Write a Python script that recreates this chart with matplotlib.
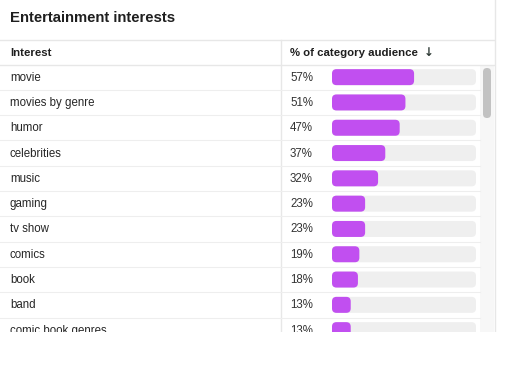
import matplotlib

matplotlib.use("Agg")
import matplotlib.pyplot as plt
from matplotlib.patches import FancyBboxPatch, Rectangle

title = "Entertainment interests"
col_headers = ["Interest", "% of category audience"]
interests = ["movie", "movies by genre", "humor", "celebrities", "music", "gaming",
             "tv show", "comics", "book", "band", "comic book genres"]
shares = [57, 51, 47, 37, 32, 23, 23, 19, 18, 13, 13]

W, H = 512, 367
row_top = 64.5
row_h = 25.3
bar_x0, bar_w, bar_h = 332, 144, 16
clip_y = 332
line_col = "#e7e7e7"
bar_col = "#c14ff0"
track_col = "#efefef"
text_col = "#1f1f1f"
font = ["Liberation Sans", "DejaVu Sans"]

fig = plt.figure(figsize=(W / 100, H / 100), dpi=100)
ax = fig.add_axes([0, 0, 1, 1])
ax.set_xlim(0, W)
ax.set_ylim(H, 0)
ax.axis("off")

ax.text(10, 17.5, title, fontsize=10.7, fontweight="bold", color=text_col,
        va="center", ha="left", family=font)

# header row
ax.axhline(39.5, xmin=0, xmax=494 / W, color=line_col, lw=1)
ax.axhline(row_top, xmin=0, xmax=494 / W, color=line_col, lw=1)
ax.text(10, 52.5, col_headers[0], fontsize=8.2, fontweight="bold", color=text_col,
        va="center", family=font)
ax.text(290, 52.5, col_headers[1], fontsize=8.2, fontweight="bold", color=text_col,
        va="center", family=font)
ax.text(424, 53, "\u2193", fontsize=8.5, fontweight="bold", color="#2f3b36",
        va="center", family=["DejaVu Sans"])
ax.plot([280.5, 280.5], [39.5, clip_y], color=line_col, lw=1)
ax.plot([494.5, 494.5], [0, clip_y], color=line_col, lw=1)

for i, (name, val) in enumerate(zip(interests, shares)):
    yc = row_top + row_h * (i + 0.5)
    ax.text(10, yc + 0.5, name, fontsize=8.3, color="#262626", va="center", family=font)
    ax.text(290, yc + 0.5, f"{val}%", fontsize=8.3, color="#333333", va="center", family=font)
    ax.add_patch(FancyBboxPatch((bar_x0, yc - bar_h / 2), bar_w, bar_h,
                                boxstyle="round,pad=0,rounding_size=4.5",
                                fc=track_col, ec="none"))
    ax.add_patch(FancyBboxPatch((bar_x0, yc - bar_h / 2), bar_w * val / 100, bar_h,
                                boxstyle="round,pad=0,rounding_size=4.5",
                                fc=bar_col, ec="none"))
    ax.plot([0, 480], [row_top + row_h * (i + 1)] * 2, color="#eeeeee", lw=0.8)

# scrollbar
ax.add_patch(Rectangle((480, row_top), 14, clip_y - row_top, fc="#f7f7f7", ec="none"))
ax.add_patch(FancyBboxPatch((483, 68), 8, 50, boxstyle="round,pad=0,rounding_size=4",
                            fc="#c2c2c2", ec="none"))

# body is cut off at the bottom of the panel
ax.add_patch(Rectangle((0, clip_y), W, H - clip_y, fc="white", ec="none", zorder=10))

fig.savefig("out.png", dpi=100)
